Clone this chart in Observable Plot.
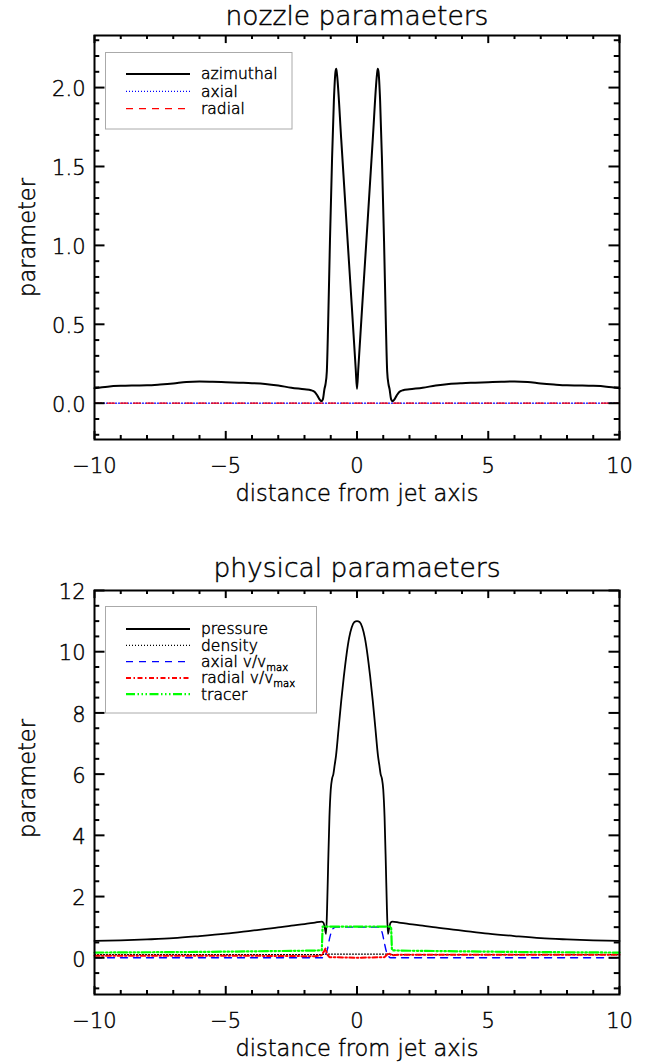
<!DOCTYPE html>
<html><head><meta charset="utf-8">
<script src="https://cdn.jsdelivr.net/npm/d3@7"></script>
<script src="https://cdn.jsdelivr.net/npm/@observablehq/plot@0.6"></script>
<style>
body{margin:0;background:#fff;}
#chart{width:660px;}
#chart svg{display:block;}
#chart svg text{font-family:"DejaVu Sans",sans-serif;font-weight:200;stroke:#000;stroke-width:0.45px;}
</style></head><body><div id="chart"></div>
<script>
// ---------- top panel: nozzle parameters ----------
const nozzleTitle = "nozzle paramaeters";
const azimuthalX = [-10,-9.5,-9,-8.5,-8,-7.5,-7,-6.5,-6,-5.5,-5,-4.5,-4,-3.5,-3,-2.5,-2,-1.75,-1.6,-1.5,-1.42,-1.36,-1.3,-1.24,-1.2,-1.15,-1.1,-1.03,-0.95,-0.88,-0.82,-0.79,-0.76,-0.6,-0.4,-0.2,-0.05,0,
  0.05,0.2,0.4,0.6,0.76,0.79,0.82,0.88,0.95,1.03,1.1,1.15,1.2,1.24,1.3,1.36,1.42,1.5,1.6,1.75,2,2.5,3,3.5,4,4.5,5,5.5,6,6.5,7,7.5,8,8.5,9,9.5,10];
const azimuthalY = [0.095,0.105,0.11,0.112,0.113,0.118,0.125,0.135,0.138,0.136,0.133,0.13,0.127,0.122,0.112,0.098,0.088,0.082,0.07,0.045,0.022,0.013,0.025,0.09,0.12,0.2,0.5,1.03,1.55,1.92,2.1,2.12,2.08,1.67,1.14,0.62,0.22,0.09,
  0.22,0.62,1.14,1.67,2.08,2.12,2.1,1.92,1.55,1.03,0.5,0.2,0.12,0.09,0.025,0.013,0.022,0.045,0.07,0.082,0.088,0.098,0.112,0.122,0.127,0.13,0.133,0.136,0.138,0.135,0.125,0.118,0.113,0.112,0.11,0.105,0.095];
const nozAxialX = [-10,10];
const nozAxialY = [0,0];
const nozRadialX = [-10,10];
const nozRadialY = [0,0];
const nozMajorY = [0,0.5,1,1.5,2];
const nozMinorY = [-0.2,-0.1,0.1,0.2,0.3,0.4,0.6,0.7,0.8,0.9,1.1,1.2,1.3,1.4,1.6,1.7,1.8,1.9,2.1,2.2,2.3];

// ---------- bottom panel: physical parameters ----------
const physTitle = "physical paramaeters";
const pressureX = [-10,-9,-8,-7,-6,-5,-4,-3,-2.5,-2,-1.6,-1.35,-1.28,-1.22,-1.18,-1.14,-1.1,-1.05,-1,-0.95,-0.9,-0.85,-0.8,-0.7,-0.6,-0.5,-0.4,-0.3,-0.2,-0.1,0,
  0.1,0.2,0.3,0.4,0.5,0.6,0.7,0.8,0.85,0.9,0.95,1,1.05,1.1,1.14,1.18,1.22,1.28,1.35,1.6,2,2.5,3,4,5,6,7,8,9,10];
const pressureY = [0.55,0.57,0.6,0.64,0.71,0.79,0.89,0.99,1.05,1.1,1.15,1.18,1.15,0.95,0.78,1.6,3.0,4.6,5.5,5.85,6.0,6.3,6.6,7.5,8.4,9.2,9.9,10.45,10.8,10.97,11.0,
  10.97,10.8,10.45,9.9,9.2,8.4,7.5,6.6,6.3,6.0,5.85,5.5,4.6,3.0,1.6,0.78,0.95,1.15,1.18,1.15,1.1,1.05,0.99,0.89,0.79,0.71,0.64,0.6,0.57,0.55];
const densityX = [-10,-1.4,-1.2,1.2,1.4,10];
const densityY = [0.1,0.1,0.12,0.12,0.1,0.1];
const axialX = [-10,-1.28,-1.2,-1.12,-1.04,-0.96,-0.88,-0.8,0.8,0.88,0.96,1.04,1.12,1.2,1.28,10];
const axialY = [0,0,0.08,0.3,0.65,0.88,0.98,1.0,1.0,0.97,0.82,0.5,0.2,0.05,0,0];
const radialX = [-10,-6,-3,-1.6,-1.35,-1.25,-1.2,-1.14,-1.05,0,1.05,1.14,1.22,1.32,1.6,3,6,10];
const radialY = [0.07,0.07,0.06,0.05,0.08,0.22,0.3,0.12,0.02,0,0.02,0.1,0.15,0.08,0.1,0.1,0.1,0.1];
const tracerX = [-10,-8,-6,-4,-2,-1.4,-1.34,-1.31,1.3,1.33,1.4,2,4,6,8,10];
const tracerY = [0.17,0.18,0.19,0.21,0.23,0.24,0.25,1.02,1.02,0.25,0.24,0.23,0.21,0.19,0.18,0.17];
const physMajorY = [0,2,4,6,8,10,12];
const physMinorY = [-1,-0.5,0.5,1,1.5,2.5,3,3.5,4.5,5,5.5,6.5,7,7.5,8.5,9,9.5,10.5,11,11.5];

// shared
const majorX = [-10,-5,0,5,10];
const minorX = [-9,-8,-7,-6,-4,-3,-2,-1,1,2,3,4,6,7,8,9];
const xLabel = "distance from jet axis";
const yLabel = "parameter";

const pts = (xs, ys) => xs.map((x, i) => ({x, y: ys[i]}));

function panel(cfg) {
  const W = 660, H = 531, ml = 94, mr = 41;
  const iw = W - ml - mr, ih = H - cfg.marginTop - cfg.marginBottom;
  const tx = 0.02 * ih, ty = 0.02 * iw;
  const marks = [];
  for (const s of cfg.series) {
    marks.push(Plot.line(pts(s.x, s.y), {x: "x", y: "y", stroke: s.color, strokeWidth: s.width,
      strokeDasharray: s.dash, curve: s.curve || "linear"}));
  }
  const tk = {stroke: "black", strokeWidth: 2};
  marks.push(
    Plot.ruleX(majorX, {...tk, x: d => d, insetTop: ih - tx}),
    Plot.ruleX(majorX, {...tk, x: d => d, insetBottom: ih - tx}),
    Plot.ruleX(minorX, {...tk, x: d => d, insetTop: ih - tx / 2}),
    Plot.ruleX(minorX, {...tk, x: d => d, insetBottom: ih - tx / 2}),
    Plot.ruleY(cfg.majorY, {...tk, y: d => d, insetRight: iw - ty}),
    Plot.ruleY(cfg.majorY, {...tk, y: d => d, insetLeft: iw - ty}),
    Plot.ruleY(cfg.minorY, {...tk, y: d => d, insetRight: iw - ty / 2}),
    Plot.ruleY(cfg.minorY, {...tk, y: d => d, insetLeft: iw - ty / 2}),
    Plot.frame({stroke: "black", strokeWidth: 2}),
    Plot.text(majorX, {x: d => d, text: d => d3.format("d")(d), frameAnchor: "bottom", dy: 27, fontSize: 21, lineAnchor: "middle", fill: "black"}),
    Plot.text(cfg.majorY, {y: d => d, text: cfg.yFmt, frameAnchor: "left", dx: -9, dy: 2, textAnchor: "end", lineAnchor: "middle", fontSize: 21, fill: "black"}),
    Plot.text([cfg.title], {text: d => d, frameAnchor: "top", dy: cfg.titleDy, fontSize: 26.5, lineAnchor: "middle", fill: "black"}),
    Plot.text([xLabel], {text: d => d, frameAnchor: "bottom", dy: 54, fontSize: 22.5, lineAnchor: "middle", fill: "black"}),
    Plot.text([yLabel], {text: d => d, frameAnchor: "left", dx: -67, dy: cfg.yLabelDy, rotate: -90, textAnchor: "middle", lineAnchor: "middle", fontSize: 22.5, fill: "black"})
  );
  const svg = Plot.plot({
    width: W, height: H,
    marginLeft: ml, marginRight: mr, marginTop: cfg.marginTop, marginBottom: cfg.marginBottom,
    x: {domain: [-10, 10], axis: null},
    y: {domain: cfg.yDomain, axis: null},
    style: {background: "white", color: "black"},
    marks
  });
  const g = d3.select(svg).append("g").attr("text-anchor", "start");
  const b = cfg.legendBox;
  g.append("rect").attr("x", b[0]).attr("y", b[1]).attr("width", b[2]).attr("height", b[3])
    .attr("fill", "white").attr("stroke", "#aaaaaa").attr("stroke-width", 1);
  cfg.series.forEach((s, i) => {
    const y = b[1] + cfg.legendRow0 + i * cfg.legendStep;
    g.append("line").attr("x1", 126).attr("x2", 190).attr("y1", y).attr("y2", y)
      .attr("stroke", s.color).attr("stroke-width", s.legendWidth || s.width)
      .attr("stroke-dasharray", s.dash || null);
    const t = g.append("text").attr("x", 201).attr("y", y).attr("dy", "0.35em")
      .attr("text-anchor", "start").attr("font-size", 15.5).attr("fill", "black").text(s.label);
    if (s.sub) t.append("tspan").attr("font-size", 10).attr("dy", "0.35em").text(s.sub);
  });
  return svg;
}

const topPanel = panel({
  title: nozzleTitle, titleDy: -19, yLabelDy: 0,
  marginTop: 35, marginBottom: 92,
  yDomain: [-0.23, 2.33], majorY: nozMajorY, minorY: nozMinorY, yFmt: d => d3.format(".1f")(d),
  legendBox: [105.5, 52.5, 186.5, 76.5], legendRow0: 21.5, legendStep: 17.3,
  series: [
    {label: "azimuthal", x: azimuthalX, y: azimuthalY, color: "black", width: 2, curve: "monotone-x"},
    {label: "axial", x: nozAxialX, y: nozAxialY, color: "#0000ff", width: 1.3, dash: "1,2"},
    {label: "radial", x: nozRadialX, y: nozRadialY, color: "#ff0000", width: 1.3, dash: "7,6"}
  ]
});
const bottomPanel = panel({
  title: physTitle, titleDy: -22, yLabelDy: -14,
  marginTop: 59, marginBottom: 68,
  yDomain: [-1.2, 12], majorY: physMajorY, minorY: physMinorY, yFmt: d => d3.format("d")(d),
  legendBox: [105.5, 75.5, 211, 106.5], legendRow0: 22.5, legendStep: 16.3,
  series: [
    {label: "pressure", x: pressureX, y: pressureY, color: "black", width: 1.8, legendWidth: 2, curve: "monotone-x"},
    {label: "density", x: densityX, y: densityY, color: "black", width: 1.2, dash: "1,2"},
    {label: "axial v/v", sub: "max", x: axialX, y: axialY, color: "#0000ff", width: 1.4, dash: "7,6", curve: "monotone-x"},
    {label: "radial v/v", sub: "max", x: radialX, y: radialY, color: "#ff0000", width: 2, dash: "5,2.5,1.5,2.5"},
    {label: "tracer", x: tracerX, y: tracerY, color: "#00ff00", width: 2.2, dash: "9,2.5,1.5,2.5,1.5,2.5,1.5,2.5"}
  ]
});
document.getElementById("chart").append(topPanel, bottomPanel);
</script></body></html>
